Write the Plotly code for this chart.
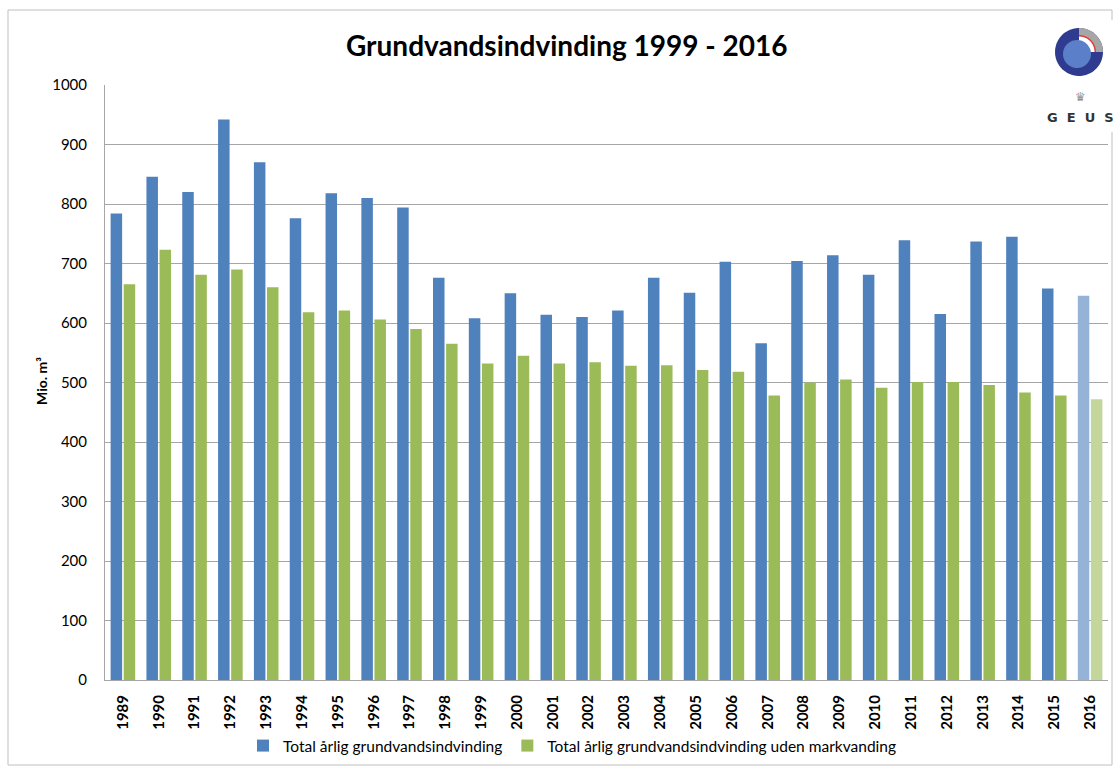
import numpy as np
import plotly.graph_objects as go

years = [str(y) for y in range(1989, 2017)]
total = [784, 846, 820, 942, 870, 776, 818, 810, 794, 676, 608, 650, 614, 610,
         621, 676, 651, 703, 566, 704, 714, 681, 739, 615, 737, 745, 658, 646]
uden = [665, 723, 681, 690, 660, 618, 621, 606, 590, 565, 532, 545, 532, 534,
        528, 529, 521, 518, 478, 500, 505, 491, 501, 501, 496, 483, 478, 472]
name_total = "Total årlig grundvandsindvinding"
name_uden = "Total årlig grundvandsindvinding uden markvanding"
title = "Grundvandsindvinding 1999 - 2016"
ytitle = "Mio. m³"

W, H = 1116, 771
ML, MR, MT, MB = 105, 8, 85, 91
PW, PH = W - ML - MR, H - MT - MB

def px(x, y):
    return (x - ML) / PW, (H - MB - y) / PH

blue = ["#4F81BD"] * (len(years) - 1) + ["#95B3D7"]
green = ["#9BBB59"] * (len(years) - 1) + ["#C3D69B"]

fig = go.Figure()
fig.add_trace(go.Bar(x=years, y=total, name=name_total, marker=dict(color=blue, line=dict(width=0))))
fig.add_trace(go.Bar(x=years, y=uden, name=name_uden, marker=dict(color=green, line=dict(width=0))))

font = "Lato, 'Open Sans', sans-serif"
shapes = []
# outer border
x0, y0 = px(8, 10); x1, y1 = px(1112, 765)
shapes.append(dict(type="rect", xref="paper", yref="paper", x0=x0, y0=y0, x1=x1, y1=y1,
                   line=dict(color="#BFBFBF", width=1), layer="below"))
# white patch behind logo (covers top gridline end)
x0, y0 = px(1045, 20); x1, y1 = px(1116, 132)
shapes.append(dict(type="rect", xref="paper", yref="paper", x0=x0, y0=y0, x1=x1, y1=y1,
                   line=dict(width=0), fillcolor="white", layer="above"))

def poly(points, color):
    pts = [px(a, b) for a, b in points]
    d = "M " + " L ".join(f"{a:.5f},{b:.5f}" for a, b in pts) + " Z"
    return dict(type="path", xref="paper", yref="paper", path=d, fillcolor=color,
                line=dict(width=0), layer="above")

def circle(cx, cy, r, color):
    t = np.linspace(0, 2 * np.pi, 60)
    return poly([(cx + r * np.cos(a), cy + r * np.sin(a)) for a in t], color)

def pie(cx, cy, r, color):
    t = np.linspace(-np.pi / 2, 0, 25)
    return poly([(cx, cy)] + [(cx + r * np.cos(a), cy + r * np.sin(a)) for a in t], color)

cx, cy = 1079, 52
shapes.append(circle(cx, cy, 24, "#2E3B8F"))
shapes.append(pie(cx, cy, 24, "#A6A6A6"))
shapes.append(pie(cx, cy, 17, "#E03C3C"))
shapes.append(pie(cx, cy, 15.5, "white"))
shapes.append(circle(cx - 2, cy + 2, 14, "#5B7FC8"))

annotations = []
def ann(text, x, y, size, color="black", fam=font, angle=0):
    ax, ay = px(x, y)
    annotations.append(dict(text=text, x=ax, y=ay, xref="paper", yref="paper",
                            xanchor="center", yanchor="middle", showarrow=False,
                            textangle=angle, font=dict(size=size, color=color, family=fam)))

ann(f"<b>{title}</b>", 567, 45, 28)
ann(f"<b>{ytitle}</b>", 41, 381, 14, angle=-90)
ann("♛", 1080, 97, 12, color="#8C8C8C", fam="DejaVu Sans")
ann("<b>G  E  U  S</b>", 1080, 117, 13, color="#333333", fam="'DejaVu Sans', sans-serif")

lx, ly = px(572, 746)
fig.update_layout(
    width=W, height=H,
    margin=dict(l=ML, r=MR, t=MT, b=MB),
    paper_bgcolor="white", plot_bgcolor="white",
    barmode="group", bargap=0.27, bargroupgap=0.12,
    showlegend=True,
    legend=dict(orientation="h", x=lx, y=ly, xanchor="center", yanchor="middle",
                font=dict(size=15.5, color="black", family=font), itemwidth=30,
                traceorder="normal"),
    shapes=shapes, annotations=annotations,
    font=dict(family=font, color="black"),
)
fig.update_xaxes(type="category", tickangle=-90, showline=True, linecolor="#A6A6A6", linewidth=1,
                 ticks="outside", ticklen=8, tickcolor="rgba(0,0,0,0)",
                 tickfont=dict(size=15, color="black", family=font), showgrid=False,
                 tickprefix="<b>", ticksuffix="</b>")
fig.update_yaxes(range=[0, 1000], dtick=100, showline=True, linecolor="#A6A6A6", linewidth=1,
                 showgrid=True, gridcolor="#A6A6A6", gridwidth=1,
                 ticks="outside", ticklen=14, tickcolor="rgba(0,0,0,0)",
                 tickfont=dict(size=15, color="black", family=font), zeroline=False)

fig.write_html("out.html", config={"displayModeBar": False},
               post_script="document.body.style.margin='0';document.body.style.overflow='hidden';")
